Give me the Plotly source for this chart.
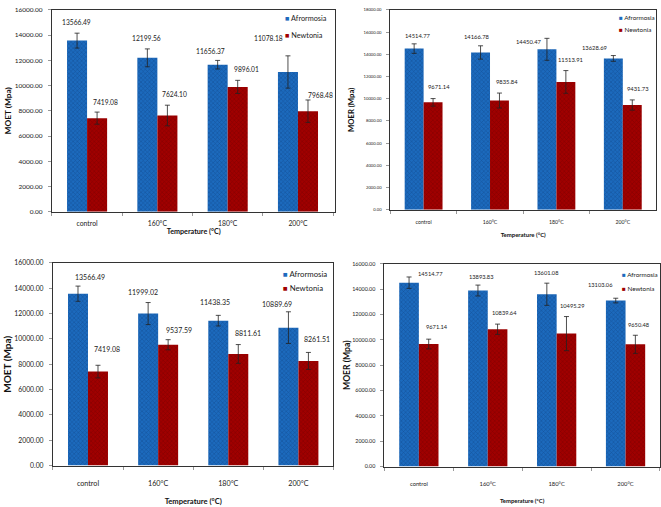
import plotly.graph_objects as go

categories = ["control", "160°C", "180°C", "200°C"]
series_names = ["Afrormosia", "Newtonia"]

# Panel A (top-left): MOET
a_afr = [13566.49, 12199.56, 11656.37, 11078.18]
a_afr_err = [590, 710, 340, 1280]
a_new = [7419.08, 7624.10, 9896.01, 7968.48]
a_new_err = [480, 820, 520, 890]

# Panel B (top-right): MOER
b_afr = [14514.77, 14166.78, 14450.47, 13628.69]
b_afr_err = [430, 600, 990, 260]
b_new = [9671.14, 9835.84, 11513.91, 9431.73]
b_new_err = [340, 675, 1020, 460]

# Panel C (bottom-left): MOET
c_afr = [13566.49, 11999.02, 11438.35, 10889.69]
c_afr_err = [600, 870, 420, 1250]
c_new = [7419.08, 9537.59, 8811.61, 8261.51]
c_new_err = [500, 400, 740, 670]

# Panel D (bottom-right): MOER
d_afr = [14514.77, 13893.83, 13601.08, 13103.06]
d_afr_err = [450, 430, 875, 185]
d_new = [9671.14, 10839.64, 10495.29, 9650.48]
d_new_err = [385, 405, 1345, 715]

y_titles = ["MOET (Mpa)", "MOER (Mpa)", "MOET (Mpa)", "MOER (Mpa)"]
x_title = "Temperature (°C)"
y_max = [16000, 18000, 16000, 16000]

W, H = 661, 507
FONT = "Lato, sans-serif"
AFR_COLOR, AFR_PAT = "#1c6abd", "#0a3570"
NEW_COLOR, NEW_PAT = "#a00000", "#5e0000"
BARGAP = 0.43

# layout/styling per panel (pixel geometry, font sizes, label nudges in px)
panels = [
    dict(afr=a_afr, afr_err=a_afr_err, new=a_new, new_err=a_new_err,
         px=(52, 336), py=(5, 210), tick=6.5, xtick=6.8, lab=6.7, leg=7.3, xt=7.2, yt=8.3,
         leg_pos=(283, 14, 31), ystand=1, xstand=3, xtls=5,
         afr_dx=[-1, -1, -7, -19], afr_dy=[11, 11, 9, 18],
         new_dx=[8, 7, 9, 13], new_dy=[10, 11, 11, 5]),
    dict(afr=b_afr, afr_err=b_afr_err, new=b_new, new_err=b_new_err,
         px=(391, 657), py=(5, 208), tick=4.2, xtick=5.2, lab=5.8, leg=6.3, xt=6, yt=7.7,
         leg_pos=(618, 13, 25), ystand=7, xstand=8, xtls=7,
         afr_dx=[4, -4, -18, -19], afr_dy=[8, 9, -3, 8],
         new_dx=[6, 8, 5, 6], new_dy=[12, 12, 11, 11]),
    dict(afr=c_afr, afr_err=c_afr_err, new=c_new, new_err=c_new_err,
         px=(53, 334), py=(262, 468), tick=6.8, xtick=7.2, lab=7.0, leg=7.8, xt=7.6, yt=10,
         leg_pos=(281, 273, 288), ystand=0, xstand=11, xtls=11,
         afr_dx=[12, -5, -3, -11], afr_dy=[9, 11, 13, 8],
         new_dx=[9, 11, 10, 9], new_dy=[16, 10, 12, 13]),
    dict(afr=d_afr, afr_err=d_afr_err, new=d_new, new_err=d_new_err,
         px=(385, 661), py=(263, 469), tick=5.4, xtick=5.8, lab=5.7, leg=6.3, xt=5.9, yt=8.6,
         leg_pos=(621, 274, 288), ystand=0, xstand=13, xtls=11,
         afr_dx=[21, 3, 0, -15], afr_dy=[3, 9, 11, 14],
         new_dx=[8, 7, 6, 4], new_dy=[13, 12, 11, 11]),
]

fig = go.Figure()
annotations = []
layout = {}
bar_w = (1 - BARGAP) / 2

for k, p in enumerate(panels):
    n = "" if k == 0 else str(k + 1)
    xa, ya = "x" + n, "y" + n
    for name, vals, errs, col, pat in [
        (series_names[0], p["afr"], p["afr_err"], AFR_COLOR, AFR_PAT),
        (series_names[1], p["new"], p["new_err"], NEW_COLOR, NEW_PAT),
    ]:
        fig.add_trace(go.Bar(
            x=categories, y=vals, name=name, xaxis=xa, yaxis=ya,
            showlegend=False,
            marker=dict(color=col, line=dict(width=0),
                        pattern=dict(shape="x", fgcolor=pat, size=3, solidity=0.3)),
            error_y=dict(type="data", array=errs, color="#222222",
                         thickness=0.8, width=2.5),
            hoverinfo="skip",
        ))
    # value labels, anchored on each bar's error-bar cap
    for s, (vals, errs, dxs, dys) in enumerate([
            (p["afr"], p["afr_err"], p["afr_dx"], p["afr_dy"]),
            (p["new"], p["new_err"], p["new_dx"], p["new_dy"])]):
        off = -bar_w / 2 if s == 0 else bar_w / 2
        for i, (v, e) in enumerate(zip(vals, errs)):
            annotations.append(dict(
                x=i + off, y=v + e, xref=xa, yref=ya, text=f"{v:.2f}",
                showarrow=False, yanchor="middle", xanchor="center",
                xshift=dxs[i], yshift=dys[i],
                font=dict(family=FONT, size=p["lab"], color="#222222")))
    # colour key for the panel
    lx, ly1, ly2 = p["leg_pos"]
    for name, col, ly in [(series_names[0], AFR_COLOR, ly1),
                          (series_names[1], NEW_COLOR, ly2)]:
        annotations.append(dict(
            x=lx / W, y=1 - ly / H, xref="paper", yref="paper",
            text=f"<span style='color:{col}'>■</span> {name}",
            showarrow=False, xanchor="left", yanchor="middle",
            font=dict(family=FONT, size=p["leg"], color="#222222")))
    x0, x1 = p["px"]
    y0, y1 = p["py"]
    layout["xaxis" + n] = dict(
        domain=[x0 / W, min(x1 / W, 1.0)], anchor=ya, type="category",
        showline=True, linecolor="#333333", linewidth=1, mirror=True,
        ticks="outside", tickson="boundaries", ticklen=3, tickcolor="#999999",
        ticklabelstandoff=p["xtls"],
        tickfont=dict(family=FONT, size=p["xtick"], color="#222222"),
        title=dict(text="<b>" + x_title + "</b>", standoff=p["xstand"],
                   font=dict(family=FONT, size=p["xt"], color="#111111")),
        showgrid=False, zeroline=False, fixedrange=True)
    layout["yaxis" + n] = dict(
        domain=[1 - y1 / H, 1 - y0 / H], anchor=xa,
        range=[0, y_max[k]], dtick=2000, tickformat=".2f",
        showline=True, linecolor="#333333", linewidth=1, mirror=True,
        ticks="outside", ticklen=3, tickcolor="#999999", ticklabelstandoff=4,
        tickfont=dict(family=FONT, size=p["tick"], color="#222222"),
        title=dict(text="<b>" + y_titles[k] + "</b>", standoff=p["ystand"],
                   font=dict(family=FONT, size=p["yt"], color="#111111")),
        showgrid=False, zeroline=False, fixedrange=True)

fig.update_layout(
    width=W, height=H, margin=dict(l=0, r=0, t=0, b=0),
    paper_bgcolor="white", plot_bgcolor="white",
    barmode="group", bargap=BARGAP, bargroupgap=0,
    showlegend=False, annotations=annotations,
    font=dict(family=FONT),
    **layout)

fig.write_html("out.html")
